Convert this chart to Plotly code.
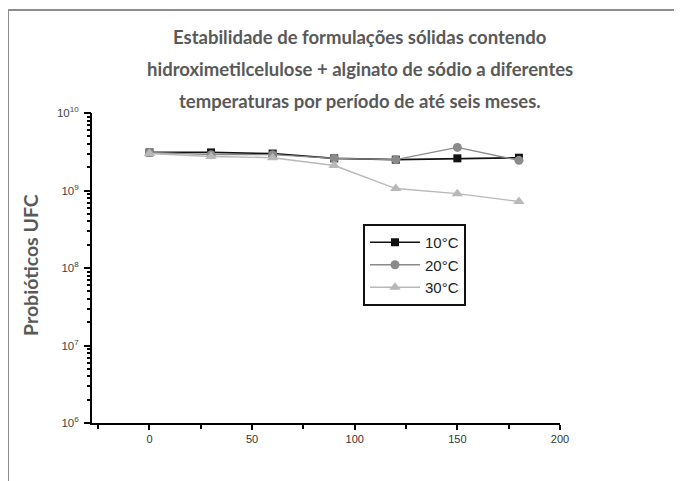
import plotly.graph_objects as go

# ---- data ----
days = [0, 30, 60, 90, 120, 150, 180]
series_names = ["10°C", "20°C", "30°C"]
ufc_10 = [3.1e9, 3.1e9, 3.0e9, 2.6e9, 2.5e9, 2.6e9, 2.65e9]
ufc_20 = [3.1e9, 2.9e9, 2.9e9, 2.6e9, 2.5e9, 3.6e9, 2.45e9]
ufc_30 = [3.0e9, 2.75e9, 2.65e9, 2.1e9, 1.06e9, 9.1e8, 7.2e8]
y_tick_exps = [6, 7, 8, 9, 10]
title_lines = [
    "Estabilidade de formulações sólidas contendo",
    "hidroximetilcelulose + alginato de sódio a diferentes",
    "temperaturas por período de até seis meses.",
]
y_title = "Probióticos UFC"

# page is shown with an 8px body margin: work in page pixels, convert
OFF = 8
W, H = 682 - OFF, 481 - OFF
PL, PR, PT, PB = 92, 560, 113, 423          # plot area in page pixels
L, R, T, B = PL - OFF, (W + OFF) - PR, PT - OFF, (H + OFF) - PB
PW, PH = PR - PL, PB - PT


def px_x(p):
    return (p - PL) / PW


def px_y(p):
    return (PB - p) / PH


fig = go.Figure()
fig.add_trace(go.Scatter(
    x=days, y=ufc_10, name=series_names[0], mode="lines+markers",
    line=dict(color="#111111", width=1.6),
    marker=dict(symbol="square", size=8, color="#111111"),
))
fig.add_trace(go.Scatter(
    x=days, y=ufc_20, name=series_names[1], mode="lines+markers",
    line=dict(color="#8a8a8a", width=1.4),
    marker=dict(symbol="circle", size=9, color="#8a8a8a"),
))
fig.add_trace(go.Scatter(
    x=days, y=ufc_30, name=series_names[2], mode="lines+markers",
    line=dict(color="#b8b8b8", width=1.4),
    marker=dict(symbol="triangle-up", size=10, color="#b8b8b8"),
))
# invisible helper trace on the overlay axis that carries the tick marks
fig.add_trace(go.Scatter(
    x=[days[0]], y=[ufc_10[0]], yaxis="y2", mode="markers",
    marker=dict(opacity=0), showlegend=False, hoverinfo="skip",
))

y_tick_vals = [10 ** e for e in y_tick_exps]
y_tick_text = ["10<sup>%d</sup>" % e for e in y_tick_exps]
clear = "rgba(0,0,0,0)"

fig.update_layout(
    width=W, height=H,
    margin=dict(l=L, r=R, t=T, b=B, autoexpand=False),
    paper_bgcolor="white", plot_bgcolor="white",
    showlegend=True,
    legend=dict(
        x=px_x(363), y=px_y(224), xanchor="left", yanchor="top",
        bgcolor="white", bordercolor="#111111", borderwidth=2,
        font=dict(family="Liberation Sans, Arial", size=15, color="#222222"),
        itemwidth=50, tracegroupgap=0,
    ),
    xaxis=dict(
        range=[-28, 200], tick0=0, dtick=50,
        ticks="outside", ticklen=5, tickwidth=2, tickcolor="black",
        showline=True, linecolor="black", linewidth=2,
        showgrid=True, gridcolor=clear, zeroline=False,
        tickfont=dict(family="Liberation Sans, Arial", size=11, color="#333333"),
        minor=dict(dtick=25, tick0=0, ticks="outside", ticklen=4,
                   tickwidth=2, tickcolor="black", showgrid=False),
    ),
    yaxis=dict(
        type="log", range=[6, 10], tickmode="array",
        tickvals=y_tick_vals, ticktext=y_tick_text, ticks="",
        ticklabelstandoff=9,
        showline=True, linecolor="black", linewidth=2,
        showgrid=True, gridcolor=clear, zeroline=False,
        tickfont=dict(family="Liberation Sans, Arial", size=11.5, color="#444444"),
    ),
    yaxis2=dict(
        type="log", range=[6, 10], overlaying="y", side="left", anchor="x",
        dtick=1, showticklabels=False,
        ticks="outside", ticklen=7, tickwidth=2, tickcolor="black",
        showline=False, showgrid=True, gridcolor=clear, zeroline=False,
        minor=dict(ticks="outside", ticklen=4, tickwidth=1.5,
                   tickcolor="black", showgrid=False),
    ),
)

title_y = [37, 69, 101]
for line, yp in zip(title_lines, title_y):
    fig.add_annotation(
        text="<b>" + line + "</b>", xref="paper", yref="paper",
        x=px_x(360), y=px_y(yp), xanchor="center", yanchor="middle",
        showarrow=False,
        font=dict(family="Lato, Open Sans", size=18.5, color="#595959"),
    )

fig.add_annotation(
    text="<b>" + y_title + "</b>", xref="paper", yref="paper",
    x=px_x(30), y=px_y(265), xanchor="center", yanchor="middle",
    textangle=-90, showarrow=False,
    font=dict(family="Lato, Open Sans", size=19.5, color="#595959"),
)

frame = dict(color="#8c8c8c", width=2)
fig.add_shape(type="line", xref="paper", yref="paper",
              x0=px_x(8), x1=px_x(8), y0=px_y(H + OFF + 5), y1=px_y(10),
              line=frame)
fig.add_shape(type="line", xref="paper", yref="paper",
              x0=px_x(8), x1=px_x(W + OFF + 5), y0=px_y(10), y1=px_y(10),
              line=frame)

fig.write_html("out.html")
